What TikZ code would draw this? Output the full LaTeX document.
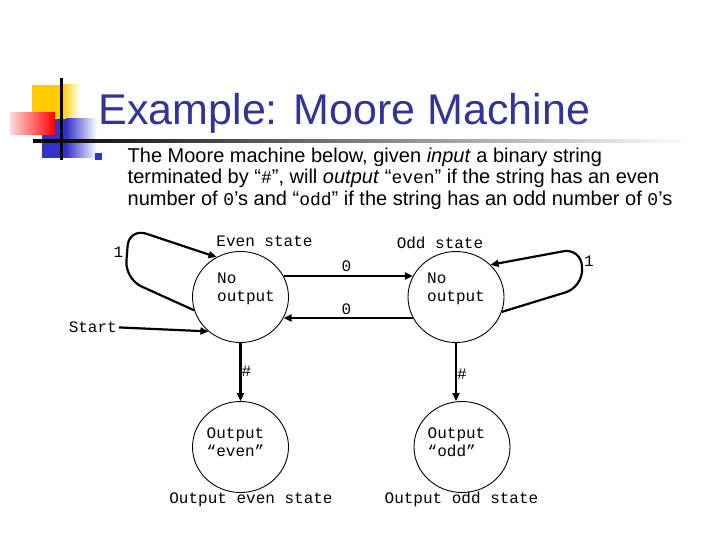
\documentclass[tikz,border=0pt]{standalone}
\usepackage{fontspec}
\setmainfont{Liberation Sans}
\setmonofont{Liberation Mono}
\definecolor{mmnavy}{RGB}{51,51,153}
\definecolor{mmblue}{RGB}{51,51,204}
\definecolor{mmyellow}{RGB}{255,204,0}
\definecolor{mmred}{RGB}{255,0,0}
\usetikzlibrary{arrows.meta,shapes.geometric}
\newcommand{\cw}[1]{{\fontsize{18}{20}\selectfont\ttfamily #1}}

\begin{document}
\begin{tikzpicture}[x=1pt, y=-1pt,
  state/.style={
    ellipse, draw, line width=0.9pt,
    minimum width=96pt, minimum height=91pt, inner sep=0pt
  },
  statetext/.style={
    font=\fontsize{16}{18}\selectfont\ttfamily,
    align=left, inner sep=0pt, anchor=west
  },
  lbl/.style={font=\fontsize{16}{18}\selectfont\ttfamily, inner sep=0pt, anchor=base},
  conn/.style={-{Triangle[length=8pt,width=7pt]}, line width=2.2pt},
  loopconn/.style={conn, rounded corners=18pt},
  bodyline/.style={font=\fontsize{20}{22}\selectfont, anchor=base west, inner sep=0pt}
]
\useasboundingbox (0,0) rectangle (720,540);

% slide decoration
\fill[mmyellow] (32,85) rectangle (62,120);
\shade[left color=mmyellow, right color=white] (62,85) rectangle (80,120);
\fill[mmblue] (42,119) rectangle (66,158);
\shade[left color=mmblue, right color=white] (66,119) rectangle (97,158);
\shade[left color=mmred!15, right color=mmred] (10,113) rectangle (55,135);
\fill[black] (60,78) rectangle (62.5,160);
\shade[left color=black, middle color=gray!70, right color=white] (33,140) rectangle (690,142.6);

\node[font=\fontsize{43}{50}\selectfont, text=mmnavy, anchor=base west, inner sep=0pt]
  (title) at (98.5,125) {Example: Moore Machine};

\fill[mmblue] (95,153) rectangle (102,160);
\node[bodyline] (line1) at (127.5,162.5)
  {The Moore machine below, given \textit{input} a binary string};
\node[bodyline] (line2) at (127.5,184)
  {terminated by “\cw{\#}”, will \textit{output} “\cw{even}” if the string has an even};
\node[bodyline] (line3) at (127.5,205.5)
  {number of \cw{0}’s and “\cw{odd}” if the string has an odd number of \cw{0}’s};

% states
\node[state] (even) at (240.5,297) {};
\node[state] (odd)  at (456,297)   {};
\node[state] (oeven) at (240.5,447) {};
\node[state] (oodd)  at (462,447)   {};

\node[statetext] (eventxt)  at (217,288.5) {No\\output};
\node[statetext] (oddtxt)   at (427,288.5) {No\\output};
\node[statetext] (oeventxt) at (206.5,442) {Output\\“even”};
\node[statetext] (ooddtxt)  at (427.5,442) {Output\\“odd”};

\node[lbl] (evenname)  at (264.5,246.5) {Even state};
\node[lbl] (oddname)   at (440,248.3)   {Odd state};
\node[lbl] (oevenname) at (251,503.3)   {Output even state};
\node[lbl] (ooddname)  at (461.5,503.3) {Output odd state};

\node[lbl, anchor=base east] (start) at (117,332.7) {Start};

% transitions
\draw[conn] (even.26) -- (odd.154);
\draw[conn] (odd.206) -- (even.-26);
\draw[loopconn] (even.196) -- (125,279) -- (129,228) -- (even.121);
\draw[loopconn] (odd.342) -- (583,287) -- (581,248) -- (odd.43);
\draw[conn] ([xshift=2pt]start.east) -- (even.227);
\draw[conn] (even) -- (oeven);
\draw[conn] (odd.south) -- (odd.south |- oodd.north);

\node[lbl] (zeroa) at (346.5,271.7) {0};
\node[lbl] (zerob) at (346.5,314.3) {0};
\node[lbl] (onea)  at (118.5,257.3) {1};
\node[lbl] (oneb)  at (589,266)     {1};
\node[lbl] (hasha) at (246.3,376)   {\#};
\node[lbl] (hashb) at (462,379)     {\#};
\end{tikzpicture}
\end{document}
